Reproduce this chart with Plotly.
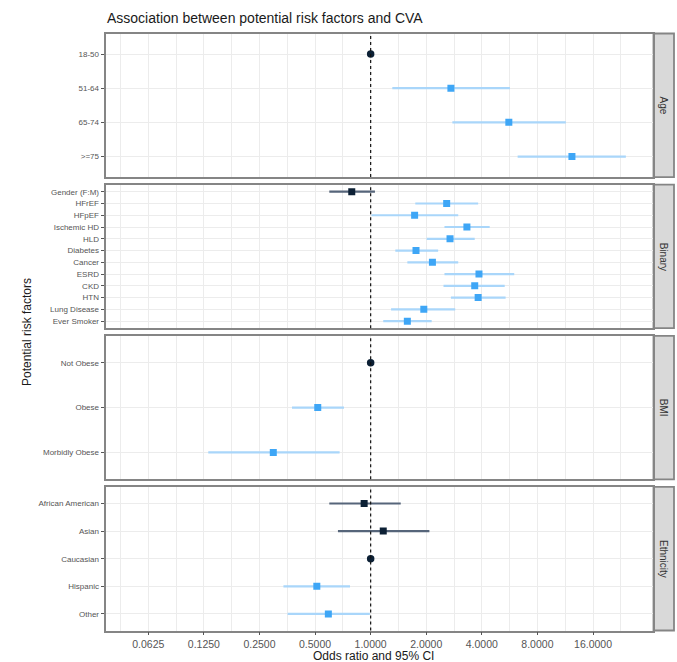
import math
import plotly.graph_objects as go

# ---------------- data ----------------
panels = ["Age", "Binary", "BMI", "Ethnicity"]

age_labels = ["18-50", "51-64", "65-74", ">=75"]
age_or = [1.0, 2.72, 5.6, 12.3]
age_lo = [None, 1.31, 2.77, 6.25]
age_hi = [None, 5.68, 11.4, 24.1]

bin_labels = ["Gender (F:M)", "HFrEF", "HFpEF", "Ischemic HD", "HLD", "Diabetes",
              "Cancer", "ESRD", "CKD", "HTN", "Lung Disease", "Ever Smoker"]
bin_or = [0.79, 2.58, 1.73, 3.32, 2.69, 1.76, 2.16, 3.86, 3.66, 3.82, 1.94, 1.58]
bin_lo = [0.597, 1.745, 1.01, 2.51, 2.01, 1.36, 1.58, 2.51, 2.48, 2.72, 1.29, 1.17]
bin_hi = [1.055, 3.82, 2.98, 4.41, 3.66, 2.32, 2.98, 5.99, 5.32, 5.38, 2.87, 2.14]

bmi_labels = ["Not Obese", "Obese", "Morbidly Obese"]
bmi_or = [1.0, 0.517, 0.297]
bmi_lo = [None, 0.375, 0.132]
bmi_hi = [None, 0.717, 0.679]

eth_labels = ["African American", "Asian", "Caucasian", "Hispanic", "Other"]
eth_or = [0.922, 1.17, 1.0, 0.511, 0.59]
eth_lo = [0.597, 0.665, None, 0.337, 0.355]
eth_hi = [1.455, 2.08, None, 0.773, 0.99]

tick_vals = [0.0625, 0.125, 0.25, 0.5, 1, 2, 4, 8, 16]
tick_text = ["0.0625", "0.1250", "0.2500", "0.5000", "1.0000", "2.0000", "4.0000", "8.0000", "16.0000"]
minor_vals = [0.03125 * 2 ** (k + 0.5) for k in range(11)]
REF = 1.0

groups = [
    (age_labels, age_or, age_lo, age_hi),
    (bin_labels, bin_or, bin_lo, bin_hi),
    (bmi_labels, bmi_or, bmi_lo, bmi_hi),
    (eth_labels, eth_or, eth_lo, eth_hi),
]

# ---------------- styling ----------------
W, H = 677, 662
FONT = "Liberation Sans, Arial, sans-serif"
LIGHT = "#3ea6f6"
LIGHT_LINE = "#a9d6fa"
DARK = "#0c2035"
DARK_LINE = "#56657a"
BORDER = "#858585"
GRID = "#ececec"

x_left_px, x_right_px = 105.5, 652.5
strip_l, strip_r = 653.5, 674.0
panel_top = 33.5
panel_bottom = 630.5
gap = 7.6
ph = (panel_bottom - panel_top - 3 * gap) / 4

x_range = [math.log10(2 ** -4.77), math.log10(2 ** 5.07)]

fig = go.Figure()
layout = {}

for i, (labels, ors, los, his) in enumerate(groups):
    n = i + 1
    xa = "x" if n == 1 else f"x{n}"
    ya = "y" if n == 1 else f"y{n}"
    top = panel_top + i * (ph + gap)
    bot = top + ph
    ydom = [1 - bot / H, 1 - top / H]

    for sig_kind in ["dark", "light", "ref"]:
        xs, ys, ep, em = [], [], [], []
        for lab, o, lo, hi in zip(labels, ors, los, his):
            if lo is None:
                kind = "ref"
            elif lo > 1 or hi < 1:
                kind = "light"
            else:
                kind = "dark"
            if kind != sig_kind:
                continue
            xs.append(o)
            ys.append(lab)
            if lo is not None:
                ep.append(hi - o)
                em.append(o - lo)
        if not xs:
            continue
        if sig_kind == "ref":
            fig.add_trace(go.Scatter(
                x=xs, y=ys, mode="markers", xaxis=xa, yaxis=ya, showlegend=False,
                marker=dict(symbol="circle", size=7.5, color=DARK),
                hoverinfo="skip"))
        else:
            col = LIGHT if sig_kind == "light" else DARK
            lcol = LIGHT_LINE if sig_kind == "light" else DARK_LINE
            fig.add_trace(go.Scatter(
                x=xs, y=ys, mode="markers", xaxis=xa, yaxis=ya, showlegend=False,
                marker=dict(symbol="square", size=7, color=col),
                error_x=dict(type="data", symmetric=False, array=ep, arrayminus=em,
                             color=lcol, thickness=2.2, width=0),
                hoverinfo="skip"))

    last = (i == 3)
    layout["xaxis" if n == 1 else f"xaxis{n}"] = dict(
        type="log", range=x_range, domain=[x_left_px / W, x_right_px / W],
        anchor=ya, tickmode="array", tickvals=tick_vals, ticktext=tick_text,
        showticklabels=last, ticks="outside" if last else "", ticklen=3,
        tickcolor="#555555", tickwidth=1,
        tickfont=dict(family=FONT, size=10.5, color="#555555"),
        showgrid=True, gridcolor=GRID, gridwidth=1,
        minor=dict(tickmode="array", tickvals=minor_vals, showgrid=True,
                   gridcolor=GRID, gridwidth=1, ticks=""),
        showline=True, mirror=True, linecolor=BORDER, linewidth=1.8,
        zeroline=False, fixedrange=True,
    )
    m = len(labels)
    layout["yaxis" if n == 1 else f"yaxis{n}"] = dict(
        type="category", categoryorder="array", categoryarray=labels,
        range=[m - 0.4, -0.6], domain=ydom, anchor=xa,
        ticks="outside", ticklen=3, tickcolor="#555555", tickwidth=1,
        tickfont=dict(family=FONT, size=8, color="#555555"),
        showgrid=True, gridcolor=GRID, gridwidth=1,
        showline=True, mirror=True, linecolor=BORDER, linewidth=1.8,
        zeroline=False, fixedrange=True,
    )

shapes = []
annotations = []
for i, name in enumerate(panels):
    n = i + 1
    top = panel_top + i * (ph + gap)
    bot = top + ph
    xa = "x" if n == 1 else f"x{n}"
    # reference line at OR = 1 (data value on the log axis)
    shapes.append(dict(type="line", xref=xa, yref="paper",
                       x0=REF, x1=REF, y0=1 - bot / H, y1=1 - top / H,
                       line=dict(color="#111111", width=1.2, dash="3px,3px"), layer="above"))
    # facet strip
    shapes.append(dict(type="rect", xref="paper", yref="paper",
                       x0=strip_l / W, x1=strip_r / W, y0=1 - bot / H, y1=1 - top / H,
                       fillcolor="#d9d9d9", line=dict(color=BORDER, width=1.8), layer="below"))
    annotations.append(dict(text=name, xref="paper", yref="paper",
                            x=(strip_l + strip_r) / 2 / W, y=1 - (top + bot) / 2 / H,
                            showarrow=False, textangle=90,
                            font=dict(family=FONT, size=10, color="#333333"),
                            xanchor="center", yanchor="middle"))

annotations.append(dict(text="Association between potential risk factors and CVA",
                        xref="paper", yref="paper", x=105 / W, y=1 - 18 / H,
                        xanchor="left", yanchor="middle", showarrow=False,
                        font=dict(family=FONT, size=14, color="#1a1a1a")))
annotations.append(dict(text="Odds ratio and 95% CI", xref="paper", yref="paper",
                        x=373 / W, y=1 - 656 / H, xanchor="center", yanchor="middle",
                        showarrow=False, font=dict(family=FONT, size=12, color="#1a1a1a")))
annotations.append(dict(text="Potential risk factors", xref="paper", yref="paper",
                        x=27 / W, y=1 - 332 / H, xanchor="center", yanchor="middle",
                        textangle=-90, showarrow=False,
                        font=dict(family=FONT, size=12, color="#1a1a1a")))

fig.update_layout(
    width=W, height=H, margin=dict(l=0, r=0, t=0, b=0),
    paper_bgcolor="white", plot_bgcolor="white",
    showlegend=False, shapes=shapes, annotations=annotations,
    **layout,
)

fig.write_html("out.html", config={"displayModeBar": False})
